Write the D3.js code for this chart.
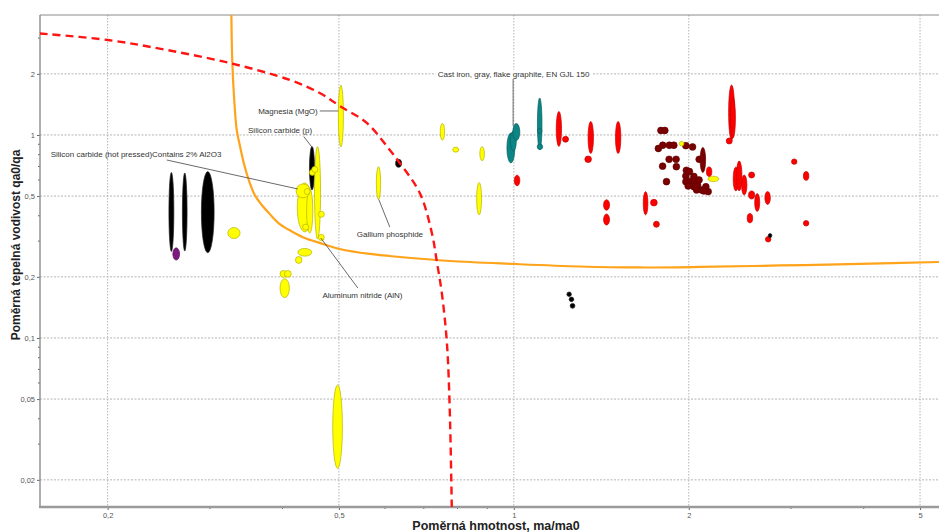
<!DOCTYPE html>
<html>
<head>
<meta charset="utf-8">
<script src="https://cdn.jsdelivr.net/npm/d3@7"></script>
<style>
  body { margin: 0; background: #fff; }
  svg { display: block; font-family: "Liberation Sans", Arial, sans-serif; }
</style>
</head>
<body>
<svg id="chart" width="939" height="532"></svg>
<script>
// ---- axes ----
const xTickValues = [0.2, 0.5, 1, 2, 5];
const yTickValues = [0.02, 0.05, 0.1, 0.2, 0.5, 1, 2];
const xTitle = "Poměrná hmotnost, ma/ma0";
const yTitle = "Poměrná tepelná vodivost qa0/qa";

// ---- material ranges: [mass min, mass max, conductivity min, conductivity max] ----
const ceramicsBlack = [
  [0.255, 0.260, 0.267, 0.654],
  [0.269, 0.274, 0.268, 0.650],
  [0.290, 0.305, 0.263, 0.660],
  [0.445, 0.454, 0.536, 0.878]
];
const purpleGroup = [
  [0.259, 0.266, 0.242, 0.278]
];
const yellowGroup = [
  [0.322, 0.338, 0.309, 0.350],
  [0.499, 0.509, 0.873, 1.76],
  [0.424, 0.450, 0.333, 0.580],
  [0.440, 0.451, 0.329, 0.542],
  [0.422, 0.446, 0.490, 0.574],
  [0.454, 0.465, 0.307, 0.876],
  [0.436, 0.446, 0.509, 0.545],
  [0.433, 0.444, 0.340, 0.364],
  [0.445, 0.455, 0.632, 0.676],
  [0.449, 0.460, 0.654, 0.700],
  [0.461, 0.472, 0.393, 0.421],
  [0.461, 0.472, 0.302, 0.324],
  [0.425, 0.449, 0.253, 0.276],
  [0.421, 0.432, 0.233, 0.252],
  [0.396, 0.407, 0.199, 0.215],
  [0.403, 0.414, 0.199, 0.215],
  [0.396, 0.411, 0.158, 0.196],
  [0.488, 0.507, 0.0228, 0.0587],
  [0.580, 0.590, 0.481, 0.698],
  [0.747, 0.760, 0.943, 1.14],
  [0.785, 0.804, 0.823, 0.871],
  [0.874, 0.890, 0.747, 0.876],
  [0.863, 0.880, 0.404, 0.583],
  [1.926, 1.962, 0.883, 0.930],
  [2.158, 2.253, 0.589, 0.626]
];
const tealGroup = [
  [0.973, 1.004, 0.728, 1.023],
  [0.986, 1.010, 0.834, 1.046],
  [0.996, 1.024, 0.940, 1.139],
  [1.098, 1.118, 0.844, 1.522],
  [1.098, 1.118, 1.017, 1.077],
  [1.097, 1.121, 0.849, 0.903]
];
const redGroup = [
  [1.002, 1.024, 0.562, 0.634],
  [1.183, 1.208, 0.878, 1.305],
  [1.213, 1.242, 0.921, 0.985],
  [1.342, 1.371, 0.811, 1.166],
  [1.325, 1.360, 0.731, 0.788],
  [1.496, 1.528, 0.811, 1.166],
  [1.427, 1.461, 0.426, 0.480],
  [1.427, 1.461, 0.360, 0.408],
  [1.670, 1.701, 0.404, 0.526],
  [1.719, 1.765, 0.447, 0.482],
  [1.739, 1.780, 0.351, 0.376],
  [2.342, 2.398, 0.945, 1.763],
  [2.359, 2.406, 0.967, 1.522],
  [2.320, 2.376, 0.903, 0.967],
  [2.385, 2.436, 0.530, 0.696],
  [2.416, 2.469, 0.530, 0.745],
  [2.465, 2.518, 0.506, 0.635],
  [2.535, 2.596, 0.614, 0.657],
  [2.535, 2.596, 0.484, 0.530],
  [2.597, 2.649, 0.420, 0.515],
  [2.704, 2.763, 0.455, 0.527],
  [2.521, 2.576, 0.369, 0.410],
  [3.005, 3.070, 0.717, 0.762],
  [3.150, 3.218, 0.598, 0.660],
  [3.150, 3.218, 0.356, 0.379],
  [2.710, 2.769, 0.297, 0.316],
  [2.145, 2.191, 0.625, 0.696]
];
const otherBlack = [
  [0.626, 0.641, 0.693, 0.759],
  [1.234, 1.256, 0.160, 0.1685],
  [1.245, 1.268, 0.151, 0.159],
  [1.250, 1.274, 0.140, 0.148],
  [2.74, 2.78, 0.312, 0.327]
];
const darkRedRanges = [
  [2.092, 2.138, 0.654, 0.868]
];
// single-grade alloys: [mass, conductivity]
const darkRedPoints = [
  [1.791, 1.052], [1.819, 1.052], [1.773, 0.858], [1.804, 0.890], [1.852, 0.890],
  [1.885, 0.890], [1.977, 0.886], [2.030, 0.873], [1.850, 0.759], [1.902, 0.759],
  [1.803, 0.702], [1.904, 0.698], [1.831, 0.589], [1.981, 0.670], [2.005, 0.661],
  [1.977, 0.628], [2.041, 0.625], [1.977, 0.589], [2.017, 0.593], [2.049, 0.587],
  [2.041, 0.556], [2.071, 0.567], [2.063, 0.536], [2.104, 0.536], [2.140, 0.556],
  [2.160, 0.526], [2.084, 0.759], [1.995, 0.561], [2.083, 0.600], [2.123, 0.530]
];

// ---- limit curves: [mass, conductivity] ----
const orangeCurve = [
  [0.3266, 3.90], [0.3277, 2.341], [0.3303, 1.487], [0.3336, 1.058], [0.3376, 0.893],
  [0.3430, 0.728], [0.3499, 0.600], [0.3583, 0.506], [0.3684, 0.452], [0.3802, 0.408],
  [0.3957, 0.364], [0.4165, 0.333], [0.4367, 0.311], [0.4635, 0.294], [0.5017, 0.2745],
  [0.5652, 0.2594], [0.6364, 0.2506], [0.7758, 0.2395], [1.0, 0.2315], [1.299, 0.2250],
  [1.648, 0.2225], [2.090, 0.2238], [2.870, 0.2276], [3.940, 0.2315], [5.389, 0.2368]
];
const redDashedCurve = [
  [0.1528, 3.162], [0.2001, 2.938], [0.2528, 2.623], [0.3270, 2.250], [0.4116, 1.866],
  [0.4635, 1.610], [0.5017, 1.390], [0.5584, 1.146], [0.6117, 0.8435], [0.6364, 0.7278],
  [0.6889, 0.5179], [0.7227, 0.3292], [0.7372, 0.2368], [0.7518, 0.1666], [0.7671, 0.0945],
  [0.7758, 0.0442], [0.7820, 0.0147]
];

// ---- callout texts ----
const labelTexts = [
  "Magnesia (MgO)",
  "Silicon carbide (p)",
  "Silicon carbide (hot pressed)Contains 2% Al2O3",
  "Cast iron, gray, flake graphite, EN GJL 150",
  "Gallium phosphide",
  "Aluminum nitride (AlN)"
];

// ---- layout ----
const W = 939, H = 532;
const plot = { left: 40, right: 939, top: 15, bottom: 507 };

const svg = d3.select("#chart");
const x = d3.scaleLog().domain([0.153, 5.39]).range([plot.left, plot.right]);
const y = d3.scaleLog().domain([0.0147, 3.90]).range([plot.bottom, plot.top]);

const cz = d3.formatLocale({ decimal: ",", thousands: "\u00a0", grouping: [3], currency: ["", " Kč"] });
const fmt = cz.format("~g");

svg.append("defs").append("clipPath").attr("id", "plotClip")
  .append("rect")
  .attr("x", plot.left).attr("y", plot.top)
  .attr("width", plot.right - plot.left).attr("height", plot.bottom - plot.top);

// grid
const grid = svg.append("g");
grid.selectAll(".vg").data(xTickValues).join("line")
  .attr("x1", d => x(d)).attr("x2", d => x(d))
  .attr("y1", plot.top).attr("y2", plot.bottom)
  .attr("stroke", "#b4b4b4").attr("stroke-width", 1).attr("stroke-dasharray", "1.5,1.5");
grid.selectAll(".hg").data(yTickValues).join("line")
  .attr("x1", plot.left).attr("x2", plot.right)
  .attr("y1", d => y(d)).attr("y2", d => y(d))
  .attr("stroke", "#b4b4b4").attr("stroke-width", 1).attr("stroke-dasharray", "2,1.5");

// minor tick positions: 3,4,6,7,8,9 x 10^k
function minorTicks(scale) {
  const [a, b] = scale.domain();
  const out = [];
  for (let k = -3; k <= 1; k++) {
    for (const m of [3, 4, 6, 7, 8, 9]) {
      const v = m * Math.pow(10, k);
      if (v > a && v < b) out.push(v);
    }
  }
  return out;
}

// axes
const xAxis = svg.append("g").attr("transform", `translate(0,${plot.bottom})`)
  .call(d3.axisBottom(x).tickValues(xTickValues).tickFormat(fmt).tickSize(3).tickSizeOuter(0));
const yAxis = svg.append("g").attr("transform", `translate(${plot.left},0)`)
  .call(d3.axisLeft(y).tickValues(yTickValues).tickFormat(fmt).tickSize(3).tickSizeOuter(0));
[xAxis, yAxis].forEach(a => {
  a.select(".domain").remove();
  a.selectAll(".tick line").attr("stroke", "#666");
  a.selectAll(".tick text").attr("fill", "#555").attr("font-size", 7.5)
    .attr("font-family", "'Liberation Sans', Arial, sans-serif");
});
xAxis.selectAll(".tick text").attr("dy", "0.6em");
yAxis.selectAll(".tick text").attr("x", -5);

svg.append("g").selectAll("line").data(minorTicks(x)).join("line")
  .attr("x1", d => x(d)).attr("x2", d => x(d))
  .attr("y1", plot.bottom).attr("y2", plot.bottom + 2)
  .attr("stroke", "#666");
svg.append("g").selectAll("line").data(minorTicks(y)).join("line")
  .attr("x1", plot.left - 2).attr("x2", plot.left)
  .attr("y1", d => y(d)).attr("y2", d => y(d))
  .attr("stroke", "#666");

// frame
svg.append("line").attr("x1", plot.left).attr("x2", plot.right)
  .attr("y1", plot.top).attr("y2", plot.top).attr("stroke", "#8c8c8c").attr("stroke-width", 1.2);
svg.append("line").attr("x1", plot.left).attr("x2", plot.left)
  .attr("y1", plot.top).attr("y2", plot.bottom).attr("stroke", "#8c8c8c").attr("stroke-width", 1.4);
svg.append("line").attr("x1", plot.left - 1).attr("x2", plot.right)
  .attr("y1", plot.bottom).attr("y2", plot.bottom).attr("stroke", "#9a9a9a").attr("stroke-width", 2.4);

// titles
svg.append("text").attr("x", 496).attr("y", 530).attr("text-anchor", "middle")
  .attr("font-size", 12.5).attr("font-weight", "bold").attr("fill", "#222").text(xTitle);
svg.append("text").attr("transform", "translate(20,245) rotate(-90)").attr("text-anchor", "middle")
  .attr("font-size", 12).attr("font-weight", "bold").attr("fill", "#222").text(yTitle);

// marks
const marks = svg.append("g").attr("clip-path", "url(#plotClip)");

function drawRanges(data, fill, stroke) {
  marks.append("g").selectAll("ellipse").data(data).join("ellipse")
    .attr("cx", d => (x(d[0]) + x(d[1])) / 2)
    .attr("cy", d => (y(d[2]) + y(d[3])) / 2)
    .attr("rx", d => (x(d[1]) - x(d[0])) / 2)
    .attr("ry", d => (y(d[2]) - y(d[3])) / 2)
    .attr("fill", fill).attr("stroke", stroke).attr("stroke-width", 0.7);
}

marks.append("g").selectAll("circle").data(darkRedPoints).join("circle")
  .attr("cx", d => x(d[0])).attr("cy", d => y(d[1])).attr("r", 3.4)
  .attr("fill", "#7a0000").attr("stroke", "#5e0000").attr("stroke-width", 0.6);
drawRanges(darkRedRanges, "#7a0000", "#5e0000");
drawRanges(ceramicsBlack, "#000000", "#222");
drawRanges(purpleGroup, "#7d1a80", "#5a0f5c");
drawRanges(yellowGroup, "#ffff00", "#b8b200");
drawRanges(tealGroup, "#0c8585", "#086262");
drawRanges(redGroup, "#ff0000", "#c40000");
drawRanges(otherBlack, "#000000", "#222");

// limit curves
const line = d3.line().x(d => x(d[0])).y(d => y(d[1])).curve(d3.curveCatmullRom.alpha(0.5));
marks.append("path").datum(orangeCurve).attr("d", line)
  .attr("fill", "none").attr("stroke", "#ffa31a").attr("stroke-width", 2.2);
marks.append("path").datum(redDashedCurve).attr("d", line)
  .attr("fill", "none").attr("stroke", "#ff1414").attr("stroke-width", 2.4)
  .attr("stroke-dasharray", "8,5");

// callouts (text anchor and leader endpoints in data units)
const callouts = [
  { t: 0, at: [0.4598, 1.313], anchor: "end",    from: [0.4635, 1.313], to: [0.4987, 1.313] },
  { t: 1, at: [0.4496, 1.050], anchor: "end",    from: [0.4350, 0.983], to: [0.4492, 0.873] },
  { t: 2, at: [0.1596, 0.8035], anchor: "start", from: [0.2528, 0.753], to: [0.4248, 0.542] },
  { t: 3, at: [0.9988, 1.998], anchor: "middle", from: [0.9972, 1.888], to: [0.9972, 1.107], bg: true },
  { t: 4, at: [0.5368, 0.3254], anchor: "start", from: [0.5856, 0.4812], to: [0.6117, 0.3521] },
  { t: 5, at: [0.4685, 0.1623], anchor: "start", from: [0.4654, 0.3109], to: [0.5389, 0.1763] }
];
const cg = svg.append("g");
callouts.forEach(c => {
  cg.append("line")
    .attr("x1", x(c.from[0])).attr("y1", y(c.from[1]))
    .attr("x2", x(c.to[0])).attr("y2", y(c.to[1]))
    .attr("stroke", "#444").attr("stroke-width", 0.8);
  const txt = cg.append("text")
    .attr("x", x(c.at[0])).attr("y", y(c.at[1])).attr("dy", "0.35em")
    .attr("text-anchor", c.anchor).attr("font-size", 8).attr("fill", "#333")
    .text(labelTexts[c.t]);
  if (c.bg) {
    const b = txt.node().getBBox();
    cg.insert("rect", () => txt.node())
      .attr("x", b.x - 2).attr("y", b.y).attr("width", b.width + 4).attr("height", b.height)
      .attr("fill", "#fff");
  }
});
</script>
</body>
</html>
